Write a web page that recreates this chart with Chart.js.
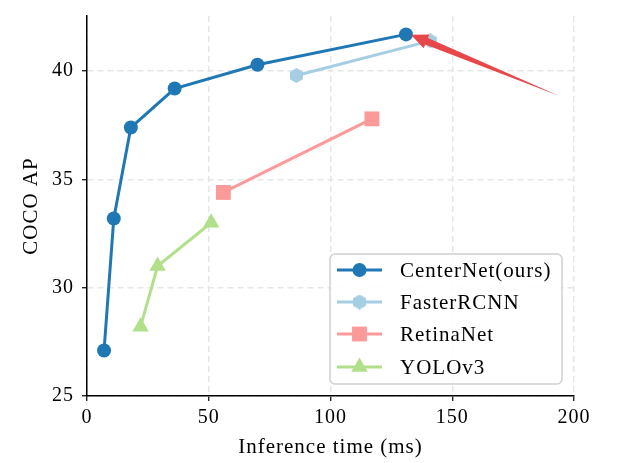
<!DOCTYPE html>
<html><head><meta charset="utf-8">
<script src="https://cdn.jsdelivr.net/npm/chart.js@4"></script>
<style>html,body{margin:0;padding:0;background:#fff}#wrap{width:626px;height:463px}</style>
</head><body><div id="wrap"><canvas id="c" width="626" height="463"></canvas></div>
<script>
const seriesNames = ['CenterNet(ours)', 'FasterRCNN', 'RetinaNet', 'YOLOv3'];
const centerNetX = [7, 11, 18, 36, 70, 131];
const centerNetY = [27.1, 33.2, 37.4, 39.2, 40.3, 41.7];
const fasterX = [86, 141];
const fasterY = [39.8, 41.4];
const retinaX = [56, 117];
const retinaY = [34.4, 37.8];
const yoloX = [22, 29, 51];
const yoloY = [28.2, 31.0, 33.0];
const xTicks = [0, 50, 100, 150, 200];
const yTicks = [25, 30, 35, 40];
const arrowFrom = [194, 38.85];
const arrowTo = [133, 41.68];

const FONT = '"Liberation Serif", "DejaVu Serif", serif';
const colors = ['#1f78b4', '#a6cee3', '#fb9a99', '#b2df8a'];

function hexImg(size, color) {
  const c = document.createElement('canvas');
  c.width = size; c.height = size;
  const g = c.getContext('2d');
  const r = size / 2;
  g.fillStyle = color;
  g.beginPath();
  for (let i = 0; i < 6; i++) {
    const a = -Math.PI / 2 + i * Math.PI / 3;
    const px = r + r * Math.cos(a), py = r + r * Math.sin(a);
    if (i === 0) g.moveTo(px, py); else g.lineTo(px, py);
  }
  g.closePath(); g.fill();
  return c;
}
const hex = hexImg(15, colors[1]);

function pts(xs, ys) { return xs.map((x, i) => ({x, y: ys[i]})); }

const styles = [
  {pointStyle: 'circle', pointRadius: 7},
  {pointStyle: hex, pointRadius: 7},
  {pointStyle: 'rect', pointRadius: 10.5},
  {pointStyle: 'triangle', pointRadius: 9.5},
];
const allX = [centerNetX, fasterX, retinaX, yoloX];
const allY = [centerNetY, fasterY, retinaY, yoloY];
const datasets = seriesNames.map((n, i) => ({
  label: n,
  data: pts(allX[i], allY[i]),
  borderColor: colors[i],
  backgroundColor: colors[i],
  borderWidth: 3,
  pointBackgroundColor: colors[i],
  pointBorderColor: colors[i],
  pointBorderWidth: 0,
  pointStyle: styles[i].pointStyle,
  pointRadius: styles[i].pointRadius,
  pointHoverRadius: styles[i].pointRadius,
  tension: 0,
  fill: false,
  order: 4 - i
}));

const spacingPlugin = {
  id: 'spacing',
  beforeDraw(chart) { chart.ctx.letterSpacing = '1px'; }
};

const arrowPlugin = {
  id: 'arrow',
  afterDatasetsDraw(chart) {
    const {ctx, scales: {x, y}} = chart;
    const x0 = x.getPixelForValue(arrowFrom[0]), y0 = y.getPixelForValue(arrowFrom[1]);
    const x1 = x.getPixelForValue(arrowTo[0]), y1 = y.getPixelForValue(arrowTo[1]);
    const dx = x1 - x0, dy = y1 - y0, L = Math.hypot(dx, dy);
    const ux = dx / L, uy = dy / L, nx = -uy, ny = ux;
    const headLen = 17, headW = 7.5, bodyW = 3.5;
    const bx = x1 - ux * headLen, by = y1 - uy * headLen;
    ctx.save();
    ctx.fillStyle = '#e8474a';
    ctx.beginPath();
    ctx.moveTo(x0, y0);
    ctx.lineTo(bx + nx * bodyW, by + ny * bodyW);
    ctx.lineTo(bx + nx * headW, by + ny * headW);
    ctx.lineTo(x1, y1);
    ctx.lineTo(bx - nx * headW, by - ny * headW);
    ctx.lineTo(bx - nx * bodyW, by - ny * bodyW);
    ctx.closePath();
    ctx.fill();
    ctx.restore();
  }
};

const legendPlugin = {
  id: 'boxLegend',
  afterDraw(chart) {
    const ctx = chart.ctx;
    const bx = 330, by = 254, bw = 232, bh = 130, r = 5;
    ctx.save();
    ctx.fillStyle = 'rgba(255,255,255,0.85)';
    ctx.strokeStyle = '#d0d0d0';
    ctx.lineWidth = 1.5;
    ctx.beginPath();
    ctx.roundRect(bx, by, bw, bh, r);
    ctx.fill(); ctx.stroke();
    const rowsY = [270, 302, 334, 367];
    chart.data.datasets.forEach((ds, i) => {
      const cy = rowsY[i];
      ctx.strokeStyle = ds.borderColor;
      ctx.lineWidth = 3;
      ctx.beginPath(); ctx.moveTo(337, cy); ctx.lineTo(382, cy); ctx.stroke();
      ctx.fillStyle = ds.borderColor;
      Chart.helpers.drawPoint(ctx, {pointStyle: ds.pointStyle, radius: ds.pointRadius, borderWidth: 0, rotation: 0}, 359.5, cy);
      ctx.fillStyle = '#000';
      ctx.font = '21px ' + FONT;
      ctx.textBaseline = 'middle';
      ctx.fillText(ds.label, 400, cy + 1);
    });
    ctx.restore();
  }
};

new Chart(document.getElementById('c'), {
  type: 'line',
  data: {datasets},
  options: {
    responsive: false,
    animation: false,
    layout: {padding: {top: 16, right: 52, left: 0, bottom: 0}},
    plugins: {legend: {display: false}, tooltip: {enabled: false}},
    scales: {
      x: {
        type: 'linear', min: 0, max: 200,
        afterBuildTicks: s => { s.ticks = xTicks.map(v => ({value: v})); },
        afterFit: s => { s.height = 67; s.paddingLeft = 0; s.paddingRight = 0; },
        ticks: {color: '#000', font: {family: FONT, size: 20}, padding: 5},
        grid: {color: '#e6e6e6', lineWidth: 1.5, drawTicks: true, tickLength: 5, tickColor: '#000', tickWidth: 1.2, tickBorderDash: []},
        border: {display: true, color: '#000', width: 1.5, dash: [6, 4]},
        title: {display: true, text: 'Inference time (ms)', color: '#000', font: {family: FONT, size: 21}, padding: {top: 0, bottom: 3}}
      },
      y: {
        type: 'linear', min: 25, max: 42.55,
        afterBuildTicks: s => { s.ticks = yTicks.map(v => ({value: v})); },
        afterFit: s => { s.width = 87; s.paddingTop = 0; s.paddingBottom = 0; },
        ticks: {color: '#000', font: {family: FONT, size: 20}, padding: 8},
        grid: {color: '#e6e6e6', lineWidth: 1.5, drawTicks: true, tickLength: 5, tickColor: '#000', tickWidth: 1.2, tickBorderDash: []},
        border: {display: true, color: '#000', width: 1.5, dash: [6, 4]},
        title: {display: true, text: 'COCO AP', color: '#000', font: {family: FONT, size: 21}, padding: {top: 19, bottom: 0}}
      }
    }
  },
  plugins: [spacingPlugin, arrowPlugin, legendPlugin]
});
</script></body></html>
